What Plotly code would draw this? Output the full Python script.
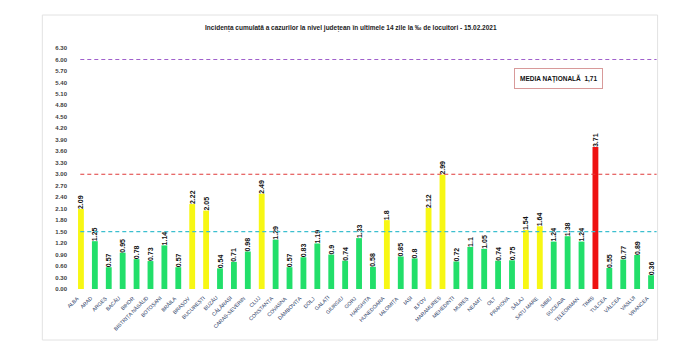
import plotly.graph_objects as go

counties = ["ALBA", "ARAD", "ARGEȘ", "BACĂU", "BIHOR", "BISTRIȚA NĂSĂUD", "BOTOȘANI", "BRĂILA",
            "BRAȘOV", "BUCUREȘTI", "BUZĂU", "CĂLĂRAȘI", "CARAȘ-SEVERIN", "CLUJ", "CONSTANȚA",
            "COVASNA", "DÂMBOVIȚA", "DOLJ", "GALAȚI", "GIURGIU", "GORJ", "HARGHITA", "HUNEDOARA",
            "IALOMIȚA", "IAȘI", "ILFOV", "MARAMUREȘ", "MEHEDINȚI", "MUREȘ", "NEAMȚ", "OLT",
            "PRAHOVA", "SĂLAJ", "SATU MARE", "SIBIU", "SUCEAVA", "TELEORMAN", "TIMIȘ", "TULCEA",
            "VÂLCEA", "VASLUI", "VRANCEA"]
values = [2.09, 1.25, 0.57, 0.95, 0.78, 0.73, 1.14, 0.57, 2.22, 2.05, 0.54, 0.71, 0.98, 2.49,
          1.29, 0.57, 0.83, 1.19, 0.9, 0.74, 1.33, 0.58, 1.8, 0.85, 0.8, 2.12, 2.99, 0.72, 1.1,
          1.05, 0.74, 0.75, 1.54, 1.64, 1.24, 1.38, 1.24, 3.71, 0.55, 0.77, 0.89, 0.36]
thresholds = [1.5, 3.0, 6.0]
threshold_colors = ["#3cbfcf", "#e03a3a", "#a060cc"]
national_label = "MEDIA NAȚIONALĂ  1,71"
title_text = "Incidența cumulată a cazurilor la nivel județean în ultimele 14 zile la ‰ de locuitori - 15.02.2021"
y_ticks = [round(i * 0.3, 2) for i in range(22)]
y_ticklabels = [f"{t:.2f}" for t in y_ticks]

GREEN, YELLOW, RED = "#22df6a", "#f7f714", "#ee1111"
colors = [GREEN if v < 1.5 else (YELLOW if v <= 3.0 else RED) for v in values]
texts = [f"{v:g}" for v in values]

W, H = 700, 364
L, R, T, B = 73.7, 41.6, 48, 75
pw, ph = W - L - R, H - T - B

def px(x):
    return (x - L) / pw

def py(y):
    return (H - B - y) / ph

fig = go.Figure(go.Bar(
    x=counties, y=values, marker_color=colors, marker_line_width=0,
    text=texts, textposition="outside", textangle=-90, constraintext="none",
    textfont=dict(family="Liberation Sans", size=7, color="#111111", weight="bold"),
    cliponaxis=False,
))

for t, c in zip(thresholds, threshold_colors):
    fig.add_shape(type="line", xref="paper", yref="y", x0=px(80), x1=px(657), y0=t, y1=t,
                  line=dict(color=c, width=1.2, dash="4px,3px"))

# outer frame
fig.add_shape(type="rect", xref="paper", yref="paper", x0=px(42), x1=px(658), y0=py(340), y1=py(15),
              line=dict(color="#e2e2e2", width=1), layer="below")

# rotated category labels
for c in counties:
    fig.add_annotation(x=c, xref="x", y=py(292), yref="paper", text=c, textangle=-45,
                       xanchor="right", yanchor="top", xshift=2, showarrow=False,
                       font=dict(family="Liberation Sans", size=5.2, color="#1f3864"))

fig.add_annotation(xref="paper", yref="paper", x=px(603.5), y=py(78), yanchor="middle",
                   text=f"<b>{national_label}</b>",
                   showarrow=False, font=dict(family="Liberation Sans", size=6.5, color="#111111"),
                   bordercolor="#d89a9a", borderwidth=1, borderpad=5, bgcolor="white")

fig.add_annotation(xref="paper", yref="paper", x=px(351), y=py(28), yanchor="middle",
                   text=f"<b>{title_text}</b>",
                   showarrow=False, font=dict(family="Liberation Sans Narrow, Liberation Sans", size=6.5, color="#222222"))

fig.update_layout(
    width=W, height=H, margin=dict(l=L, r=R, t=T, b=B, pad=0),
    paper_bgcolor="white", plot_bgcolor="white", bargap=0.58, showlegend=False,
    xaxis=dict(showticklabels=False, showgrid=False, showline=False, ticks="", automargin=False,
               range=[-0.5, len(counties) - 0.5], autorange=False),
    yaxis=dict(range=[0, 6.3], autorange=False, tickvals=y_ticks, ticktext=y_ticklabels, showgrid=False,
               zeroline=False, showline=False, ticks="", ticklabelstandoff=6,
               tickfont=dict(family="Liberation Sans", size=6, color="#404040", weight="bold"),
               automargin=False),
)

fig.write_html("out.html", config={"displayModeBar": False},
               post_script="document.body.style.margin='0';document.body.style.overflow='hidden';")
